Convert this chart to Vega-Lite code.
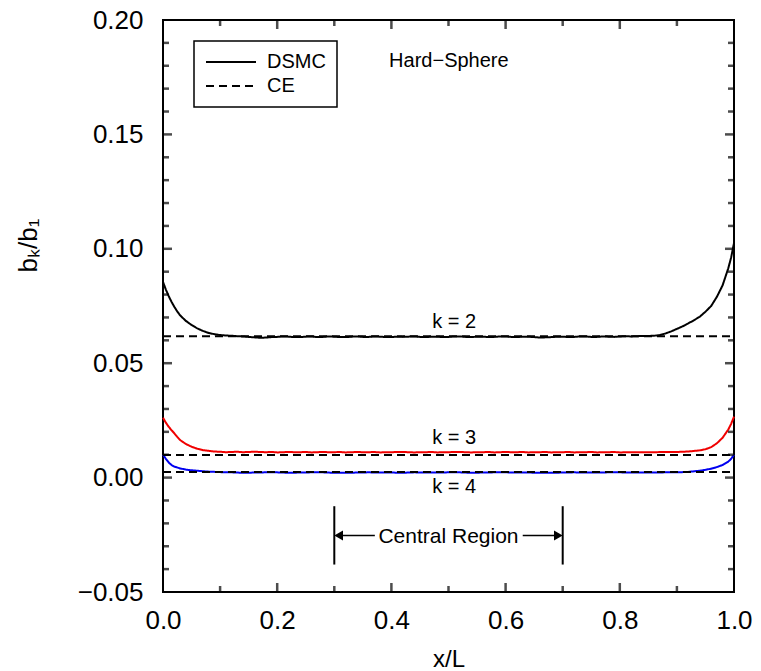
{
  "$schema": "https://vega.github.io/schema/vega-lite/v6.json",
  "width": 571,
  "height": 572,
  "autosize": {"type": "none"},
  "padding": {"left": 163, "top": 20, "right": 27, "bottom": 79},
  "background": "white",
  "config": {
    "view": {"stroke": "black", "strokeWidth": 2},
    "font": "Liberation Sans",
    "axis": {
      "domain": false, "grid": false, "ticks": false, "labelFlush": false, "labelOverlap": false, "labelBound": false,
      "labelFont": "Liberation Sans", "labelFontSize": 26, "labelColor": "black",
      "titleFont": "Liberation Sans", "titleFontSize": 26, "titleColor": "black", "titleFontWeight": "normal"
    }
  },
  "datasets": {
    "dsmc": [
      {"x":0,"y":0.0855,"k":2,"method":"DSMC"},{"x":0.005,"y":0.0822,"k":2,"method":"DSMC"},{"x":0.01,"y":0.0793,"k":2,"method":"DSMC"},{"x":0.015,"y":0.0768,"k":2,"method":"DSMC"},{"x":0.02,"y":0.0746,"k":2,"method":"DSMC"},{"x":0.025,"y":0.0726,"k":2,"method":"DSMC"},{"x":0.03,"y":0.0709,"k":2,"method":"DSMC"},{"x":0.04,"y":0.0685,"k":2,"method":"DSMC"},{"x":0.05,"y":0.0667,"k":2,"method":"DSMC"},{"x":0.06,"y":0.0652,"k":2,"method":"DSMC"},{"x":0.07,"y":0.0641,"k":2,"method":"DSMC"},{"x":0.08,"y":0.0632,"k":2,"method":"DSMC"},{"x":0.09,"y":0.0627,"k":2,"method":"DSMC"},{"x":0.1,"y":0.0623,"k":2,"method":"DSMC"},{"x":0.11,"y":0.0621,"k":2,"method":"DSMC"},{"x":0.12,"y":0.062,"k":2,"method":"DSMC"},{"x":0.13,"y":0.0618,"k":2,"method":"DSMC"},{"x":0.14,"y":0.0617,"k":2,"method":"DSMC"},{"x":0.15,"y":0.0615,"k":2,"method":"DSMC"},{"x":0.16,"y":0.0613,"k":2,"method":"DSMC"},{"x":0.17,"y":0.0611,"k":2,"method":"DSMC"},{"x":0.18,"y":0.0612,"k":2,"method":"DSMC"},{"x":0.19,"y":0.0614,"k":2,"method":"DSMC"},{"x":0.2,"y":0.0615,"k":2,"method":"DSMC"},{"x":0.21,"y":0.0617,"k":2,"method":"DSMC"},{"x":0.22,"y":0.0616,"k":2,"method":"DSMC"},{"x":0.23,"y":0.0614,"k":2,"method":"DSMC"},{"x":0.24,"y":0.0614,"k":2,"method":"DSMC"},{"x":0.25,"y":0.0616,"k":2,"method":"DSMC"},{"x":0.26,"y":0.0617,"k":2,"method":"DSMC"},{"x":0.27,"y":0.0614,"k":2,"method":"DSMC"},{"x":0.28,"y":0.0615,"k":2,"method":"DSMC"},{"x":0.29,"y":0.0617,"k":2,"method":"DSMC"},{"x":0.3,"y":0.0616,"k":2,"method":"DSMC"},{"x":0.31,"y":0.0614,"k":2,"method":"DSMC"},{"x":0.32,"y":0.0614,"k":2,"method":"DSMC"},{"x":0.33,"y":0.0616,"k":2,"method":"DSMC"},{"x":0.34,"y":0.0617,"k":2,"method":"DSMC"},{"x":0.35,"y":0.0615,"k":2,"method":"DSMC"},{"x":0.36,"y":0.0615,"k":2,"method":"DSMC"},{"x":0.37,"y":0.0617,"k":2,"method":"DSMC"},{"x":0.38,"y":0.0616,"k":2,"method":"DSMC"},{"x":0.39,"y":0.0614,"k":2,"method":"DSMC"},{"x":0.4,"y":0.0614,"k":2,"method":"DSMC"},{"x":0.41,"y":0.0616,"k":2,"method":"DSMC"},{"x":0.42,"y":0.0615,"k":2,"method":"DSMC"},{"x":0.43,"y":0.0616,"k":2,"method":"DSMC"},{"x":0.44,"y":0.0617,"k":2,"method":"DSMC"},{"x":0.45,"y":0.0615,"k":2,"method":"DSMC"},{"x":0.46,"y":0.0614,"k":2,"method":"DSMC"},{"x":0.47,"y":0.0616,"k":2,"method":"DSMC"},{"x":0.48,"y":0.0616,"k":2,"method":"DSMC"},{"x":0.49,"y":0.0614,"k":2,"method":"DSMC"},{"x":0.5,"y":0.0615,"k":2,"method":"DSMC"},{"x":0.51,"y":0.0617,"k":2,"method":"DSMC"},{"x":0.52,"y":0.0617,"k":2,"method":"DSMC"},{"x":0.53,"y":0.0615,"k":2,"method":"DSMC"},{"x":0.54,"y":0.0614,"k":2,"method":"DSMC"},{"x":0.55,"y":0.0616,"k":2,"method":"DSMC"},{"x":0.56,"y":0.0616,"k":2,"method":"DSMC"},{"x":0.57,"y":0.0614,"k":2,"method":"DSMC"},{"x":0.58,"y":0.0615,"k":2,"method":"DSMC"},{"x":0.59,"y":0.0617,"k":2,"method":"DSMC"},{"x":0.6,"y":0.0617,"k":2,"method":"DSMC"},{"x":0.61,"y":0.0615,"k":2,"method":"DSMC"},{"x":0.62,"y":0.0614,"k":2,"method":"DSMC"},{"x":0.63,"y":0.0616,"k":2,"method":"DSMC"},{"x":0.64,"y":0.0616,"k":2,"method":"DSMC"},{"x":0.65,"y":0.0614,"k":2,"method":"DSMC"},{"x":0.66,"y":0.0612,"k":2,"method":"DSMC"},{"x":0.67,"y":0.0613,"k":2,"method":"DSMC"},{"x":0.68,"y":0.0614,"k":2,"method":"DSMC"},{"x":0.69,"y":0.0616,"k":2,"method":"DSMC"},{"x":0.7,"y":0.0616,"k":2,"method":"DSMC"},{"x":0.71,"y":0.0614,"k":2,"method":"DSMC"},{"x":0.72,"y":0.0615,"k":2,"method":"DSMC"},{"x":0.73,"y":0.0617,"k":2,"method":"DSMC"},{"x":0.74,"y":0.0617,"k":2,"method":"DSMC"},{"x":0.75,"y":0.0615,"k":2,"method":"DSMC"},{"x":0.76,"y":0.0615,"k":2,"method":"DSMC"},{"x":0.77,"y":0.0617,"k":2,"method":"DSMC"},{"x":0.78,"y":0.0616,"k":2,"method":"DSMC"},{"x":0.79,"y":0.0615,"k":2,"method":"DSMC"},{"x":0.8,"y":0.0617,"k":2,"method":"DSMC"},{"x":0.81,"y":0.0618,"k":2,"method":"DSMC"},{"x":0.82,"y":0.0617,"k":2,"method":"DSMC"},{"x":0.83,"y":0.0618,"k":2,"method":"DSMC"},{"x":0.84,"y":0.0619,"k":2,"method":"DSMC"},{"x":0.85,"y":0.0619,"k":2,"method":"DSMC"},{"x":0.86,"y":0.062,"k":2,"method":"DSMC"},{"x":0.87,"y":0.0623,"k":2,"method":"DSMC"},{"x":0.88,"y":0.063,"k":2,"method":"DSMC"},{"x":0.89,"y":0.0639,"k":2,"method":"DSMC"},{"x":0.9,"y":0.065,"k":2,"method":"DSMC"},{"x":0.91,"y":0.0661,"k":2,"method":"DSMC"},{"x":0.92,"y":0.0674,"k":2,"method":"DSMC"},{"x":0.93,"y":0.0688,"k":2,"method":"DSMC"},{"x":0.94,"y":0.0703,"k":2,"method":"DSMC"},{"x":0.95,"y":0.0725,"k":2,"method":"DSMC"},{"x":0.96,"y":0.075,"k":2,"method":"DSMC"},{"x":0.97,"y":0.079,"k":2,"method":"DSMC"},{"x":0.98,"y":0.084,"k":2,"method":"DSMC"},{"x":0.99,"y":0.0915,"k":2,"method":"DSMC"},{"x":0.995,"y":0.0962,"k":2,"method":"DSMC"},{"x":1,"y":0.1025,"k":2,"method":"DSMC"},
      {"x":0,"y":0.0262,"k":3,"method":"DSMC"},{"x":0.005,"y":0.024,"k":3,"method":"DSMC"},{"x":0.01,"y":0.0222,"k":3,"method":"DSMC"},{"x":0.015,"y":0.0207,"k":3,"method":"DSMC"},{"x":0.02,"y":0.0193,"k":3,"method":"DSMC"},{"x":0.025,"y":0.0178,"k":3,"method":"DSMC"},{"x":0.03,"y":0.0164,"k":3,"method":"DSMC"},{"x":0.04,"y":0.0147,"k":3,"method":"DSMC"},{"x":0.05,"y":0.0135,"k":3,"method":"DSMC"},{"x":0.06,"y":0.0126,"k":3,"method":"DSMC"},{"x":0.07,"y":0.012,"k":3,"method":"DSMC"},{"x":0.08,"y":0.0117,"k":3,"method":"DSMC"},{"x":0.09,"y":0.0114,"k":3,"method":"DSMC"},{"x":0.1,"y":0.0113,"k":3,"method":"DSMC"},{"x":0.11,"y":0.0111,"k":3,"method":"DSMC"},{"x":0.12,"y":0.0112,"k":3,"method":"DSMC"},{"x":0.13,"y":0.0113,"k":3,"method":"DSMC"},{"x":0.14,"y":0.0111,"k":3,"method":"DSMC"},{"x":0.15,"y":0.0112,"k":3,"method":"DSMC"},{"x":0.16,"y":0.0113,"k":3,"method":"DSMC"},{"x":0.17,"y":0.0112,"k":3,"method":"DSMC"},{"x":0.18,"y":0.0111,"k":3,"method":"DSMC"},{"x":0.19,"y":0.0112,"k":3,"method":"DSMC"},{"x":0.2,"y":0.011,"k":3,"method":"DSMC"},{"x":0.21,"y":0.0111,"k":3,"method":"DSMC"},{"x":0.22,"y":0.0112,"k":3,"method":"DSMC"},{"x":0.23,"y":0.0111,"k":3,"method":"DSMC"},{"x":0.24,"y":0.0111,"k":3,"method":"DSMC"},{"x":0.25,"y":0.0112,"k":3,"method":"DSMC"},{"x":0.26,"y":0.011,"k":3,"method":"DSMC"},{"x":0.27,"y":0.0111,"k":3,"method":"DSMC"},{"x":0.28,"y":0.0112,"k":3,"method":"DSMC"},{"x":0.29,"y":0.0111,"k":3,"method":"DSMC"},{"x":0.3,"y":0.0111,"k":3,"method":"DSMC"},{"x":0.31,"y":0.0112,"k":3,"method":"DSMC"},{"x":0.32,"y":0.011,"k":3,"method":"DSMC"},{"x":0.33,"y":0.0111,"k":3,"method":"DSMC"},{"x":0.34,"y":0.0112,"k":3,"method":"DSMC"},{"x":0.35,"y":0.0111,"k":3,"method":"DSMC"},{"x":0.36,"y":0.0111,"k":3,"method":"DSMC"},{"x":0.37,"y":0.0112,"k":3,"method":"DSMC"},{"x":0.38,"y":0.011,"k":3,"method":"DSMC"},{"x":0.39,"y":0.0111,"k":3,"method":"DSMC"},{"x":0.4,"y":0.0111,"k":3,"method":"DSMC"},{"x":0.41,"y":0.0112,"k":3,"method":"DSMC"},{"x":0.42,"y":0.0112,"k":3,"method":"DSMC"},{"x":0.43,"y":0.0111,"k":3,"method":"DSMC"},{"x":0.44,"y":0.011,"k":3,"method":"DSMC"},{"x":0.45,"y":0.0111,"k":3,"method":"DSMC"},{"x":0.46,"y":0.0111,"k":3,"method":"DSMC"},{"x":0.47,"y":0.0112,"k":3,"method":"DSMC"},{"x":0.48,"y":0.011,"k":3,"method":"DSMC"},{"x":0.49,"y":0.0111,"k":3,"method":"DSMC"},{"x":0.5,"y":0.0111,"k":3,"method":"DSMC"},{"x":0.51,"y":0.0112,"k":3,"method":"DSMC"},{"x":0.52,"y":0.0112,"k":3,"method":"DSMC"},{"x":0.53,"y":0.0111,"k":3,"method":"DSMC"},{"x":0.54,"y":0.011,"k":3,"method":"DSMC"},{"x":0.55,"y":0.0111,"k":3,"method":"DSMC"},{"x":0.56,"y":0.0111,"k":3,"method":"DSMC"},{"x":0.57,"y":0.0112,"k":3,"method":"DSMC"},{"x":0.58,"y":0.011,"k":3,"method":"DSMC"},{"x":0.59,"y":0.0111,"k":3,"method":"DSMC"},{"x":0.6,"y":0.0112,"k":3,"method":"DSMC"},{"x":0.61,"y":0.0111,"k":3,"method":"DSMC"},{"x":0.62,"y":0.0111,"k":3,"method":"DSMC"},{"x":0.63,"y":0.0112,"k":3,"method":"DSMC"},{"x":0.64,"y":0.011,"k":3,"method":"DSMC"},{"x":0.65,"y":0.0111,"k":3,"method":"DSMC"},{"x":0.66,"y":0.0111,"k":3,"method":"DSMC"},{"x":0.67,"y":0.0112,"k":3,"method":"DSMC"},{"x":0.68,"y":0.011,"k":3,"method":"DSMC"},{"x":0.69,"y":0.0111,"k":3,"method":"DSMC"},{"x":0.7,"y":0.0111,"k":3,"method":"DSMC"},{"x":0.71,"y":0.0112,"k":3,"method":"DSMC"},{"x":0.72,"y":0.011,"k":3,"method":"DSMC"},{"x":0.73,"y":0.0111,"k":3,"method":"DSMC"},{"x":0.74,"y":0.0111,"k":3,"method":"DSMC"},{"x":0.75,"y":0.0112,"k":3,"method":"DSMC"},{"x":0.76,"y":0.011,"k":3,"method":"DSMC"},{"x":0.77,"y":0.0111,"k":3,"method":"DSMC"},{"x":0.78,"y":0.0111,"k":3,"method":"DSMC"},{"x":0.79,"y":0.0112,"k":3,"method":"DSMC"},{"x":0.8,"y":0.011,"k":3,"method":"DSMC"},{"x":0.82,"y":0.0111,"k":3,"method":"DSMC"},{"x":0.84,"y":0.0111,"k":3,"method":"DSMC"},{"x":0.86,"y":0.0111,"k":3,"method":"DSMC"},{"x":0.88,"y":0.0112,"k":3,"method":"DSMC"},{"x":0.9,"y":0.0112,"k":3,"method":"DSMC"},{"x":0.92,"y":0.0114,"k":3,"method":"DSMC"},{"x":0.94,"y":0.0119,"k":3,"method":"DSMC"},{"x":0.95,"y":0.0124,"k":3,"method":"DSMC"},{"x":0.96,"y":0.0133,"k":3,"method":"DSMC"},{"x":0.97,"y":0.015,"k":3,"method":"DSMC"},{"x":0.98,"y":0.0174,"k":3,"method":"DSMC"},{"x":0.99,"y":0.021,"k":3,"method":"DSMC"},{"x":0.995,"y":0.0235,"k":3,"method":"DSMC"},{"x":1,"y":0.0266,"k":3,"method":"DSMC"},
      {"x":0,"y":0.01,"k":4,"method":"DSMC"},{"x":0.005,"y":0.0082,"k":4,"method":"DSMC"},{"x":0.01,"y":0.0066,"k":4,"method":"DSMC"},{"x":0.015,"y":0.0055,"k":4,"method":"DSMC"},{"x":0.02,"y":0.0048,"k":4,"method":"DSMC"},{"x":0.03,"y":0.004,"k":4,"method":"DSMC"},{"x":0.04,"y":0.0035,"k":4,"method":"DSMC"},{"x":0.05,"y":0.0032,"k":4,"method":"DSMC"},{"x":0.06,"y":0.003,"k":4,"method":"DSMC"},{"x":0.07,"y":0.0028,"k":4,"method":"DSMC"},{"x":0.08,"y":0.0026,"k":4,"method":"DSMC"},{"x":0.1,"y":0.0024,"k":4,"method":"DSMC"},{"x":0.12,"y":0.0023,"k":4,"method":"DSMC"},{"x":0.14,"y":0.0021,"k":4,"method":"DSMC"},{"x":0.16,"y":0.0022,"k":4,"method":"DSMC"},{"x":0.18,"y":0.0023,"k":4,"method":"DSMC"},{"x":0.2,"y":0.0023,"k":4,"method":"DSMC"},{"x":0.22,"y":0.0021,"k":4,"method":"DSMC"},{"x":0.24,"y":0.0022,"k":4,"method":"DSMC"},{"x":0.26,"y":0.0023,"k":4,"method":"DSMC"},{"x":0.28,"y":0.0023,"k":4,"method":"DSMC"},{"x":0.3,"y":0.0021,"k":4,"method":"DSMC"},{"x":0.32,"y":0.0021,"k":4,"method":"DSMC"},{"x":0.34,"y":0.0022,"k":4,"method":"DSMC"},{"x":0.36,"y":0.0023,"k":4,"method":"DSMC"},{"x":0.38,"y":0.0022,"k":4,"method":"DSMC"},{"x":0.4,"y":0.0022,"k":4,"method":"DSMC"},{"x":0.42,"y":0.0021,"k":4,"method":"DSMC"},{"x":0.44,"y":0.0023,"k":4,"method":"DSMC"},{"x":0.46,"y":0.0022,"k":4,"method":"DSMC"},{"x":0.48,"y":0.0022,"k":4,"method":"DSMC"},{"x":0.5,"y":0.0023,"k":4,"method":"DSMC"},{"x":0.52,"y":0.0023,"k":4,"method":"DSMC"},{"x":0.54,"y":0.0021,"k":4,"method":"DSMC"},{"x":0.56,"y":0.0022,"k":4,"method":"DSMC"},{"x":0.58,"y":0.0023,"k":4,"method":"DSMC"},{"x":0.6,"y":0.0023,"k":4,"method":"DSMC"},{"x":0.62,"y":0.0022,"k":4,"method":"DSMC"},{"x":0.64,"y":0.0022,"k":4,"method":"DSMC"},{"x":0.66,"y":0.0021,"k":4,"method":"DSMC"},{"x":0.68,"y":0.0021,"k":4,"method":"DSMC"},{"x":0.7,"y":0.0022,"k":4,"method":"DSMC"},{"x":0.72,"y":0.0023,"k":4,"method":"DSMC"},{"x":0.74,"y":0.0022,"k":4,"method":"DSMC"},{"x":0.76,"y":0.0022,"k":4,"method":"DSMC"},{"x":0.78,"y":0.0023,"k":4,"method":"DSMC"},{"x":0.8,"y":0.0023,"k":4,"method":"DSMC"},{"x":0.82,"y":0.0022,"k":4,"method":"DSMC"},{"x":0.84,"y":0.0022,"k":4,"method":"DSMC"},{"x":0.86,"y":0.0022,"k":4,"method":"DSMC"},{"x":0.88,"y":0.0023,"k":4,"method":"DSMC"},{"x":0.9,"y":0.0023,"k":4,"method":"DSMC"},{"x":0.92,"y":0.0025,"k":4,"method":"DSMC"},{"x":0.94,"y":0.003,"k":4,"method":"DSMC"},{"x":0.95,"y":0.0034,"k":4,"method":"DSMC"},{"x":0.96,"y":0.0039,"k":4,"method":"DSMC"},{"x":0.97,"y":0.0046,"k":4,"method":"DSMC"},{"x":0.98,"y":0.0055,"k":4,"method":"DSMC"},{"x":0.99,"y":0.007,"k":4,"method":"DSMC"},{"x":0.995,"y":0.0082,"k":4,"method":"DSMC"},{"x":1,"y":0.01,"k":4,"method":"DSMC"}
    ],
    "ce": [
      {"x":0,"y":0.0618,"k":2,"method":"CE"},{"x":1,"y":0.0618,"k":2,"method":"CE"},
      {"x":0,"y":0.0099,"k":3,"method":"CE"},{"x":1,"y":0.0099,"k":3,"method":"CE"},
      {"x":0,"y":0.0024,"k":4,"method":"CE"},{"x":1,"y":0.0024,"k":4,"method":"CE"}
    ],
    "xmajor": [{"v":0.2},{"v":0.4},{"v":0.6},{"v":0.8}],
    "xminor": [{"v":0.1},{"v":0.3},{"v":0.5},{"v":0.7},{"v":0.9}],
    "ymajor": [{"v":0},{"v":0.05},{"v":0.1},{"v":0.15}],
    "yminor": [{"v":-0.04},{"v":-0.03},{"v":-0.02},{"v":-0.01},{"v":0.01},{"v":0.02},{"v":0.03},{"v":0.04},{"v":0.06},{"v":0.07},{"v":0.08},{"v":0.09},{"v":0.11},{"v":0.12},{"v":0.13},{"v":0.14},{"v":0.16},{"v":0.17},{"v":0.18},{"v":0.19}],
    "klabels": [
      {"x":0.51,"y":0.0654,"label":"k = 2"},
      {"x":0.51,"y":0.0148,"label":"k = 3"},
      {"x":0.51,"y":-0.0067,"label":"k = 4"}
    ],
    "bars": [
      {"x":0.3,"y":-0.0125,"y2":-0.038},
      {"x":0.7,"y":-0.0125,"y2":-0.038}
    ],
    "arrows": [
      {"x":0.305,"x2":0.371,"y":-0.0253},
      {"x":0.63,"x2":0.695,"y":-0.0253}
    ],
    "heads": [
      {"x":0.3076,"y":-0.0253,"dir":"left"},
      {"x":0.6924,"y":-0.0253,"dir":"right"}
    ],
    "central": [{"x":0.5,"y":-0.0288,"label":"Central Region"}],
    "hs": [{"x":0.396,"y":0.1796,"label":"Hard−Sphere"}]
  },
  "layer": [
    {
      "data": {"name": "dsmc"},
      "mark": {"type": "line", "strokeWidth": 2},
      "encoding": {
        "x": {"field": "x", "type": "quantitative", "scale": {"domain": [0, 1], "nice": false, "zero": false},
          "axis": {"orient": "bottom", "values": [0, 0.2, 0.4, 0.6, 0.8, 1], "format": ".1f", "labelPadding": 15,
            "title": "x/L", "titleFontSize": 24, "titleY": 74, "titleBaseline": "alphabetic"}},
        "y": {"field": "y", "type": "quantitative", "scale": {"domain": [-0.05, 0.2], "nice": false, "zero": false},
          "axis": {"orient": "left", "values": [-0.05, 0, 0.05, 0.1, 0.15, 0.2], "format": ".2f", "labelPadding": 20,
            "title": "bₖ/b₁", "titleX": -135, "titleY": 225, "titleAngle": -90, "titleAlign": "center", "titleBaseline": "middle"}},
        "color": {"field": "k", "type": "nominal", "scale": {"domain": [2, 3, 4], "range": ["black", "#f00000", "#0000f0"]}, "legend": null},
        "strokeDash": {"field": "method", "type": "nominal", "scale": {"domain": ["DSMC", "CE"], "range": [[1, 0], [8, 5]]},
          "legend": {"orient": "none", "legendX": 31, "legendY": 21, "title": null, "symbolType": "stroke", "symbolSize": 2500,
            "symbolStrokeWidth": 2, "symbolStrokeColor": "black", "labelFontSize": 20, "labelFont": "Liberation Sans", "labelColor": "black",
            "clipHeight": 20, "rowPadding": 4, "labelOffset": 10, "padding": 11, "strokeColor": "black",
            "encode": {"legend": {"update": {"strokeWidth": {"value": 1.5}}}}}}
      }
    },
    {
      "data": {"name": "ce"},
      "mark": {"type": "line", "strokeWidth": 2, "color": "black"},
      "encoding": {
        "x": {"field": "x", "type": "quantitative"},
        "y": {"field": "y", "type": "quantitative"},
        "strokeDash": {"field": "method", "type": "nominal"},
        "detail": {"field": "k", "type": "nominal"}
      }
    },
    {
      "data": {"name": "xmajor"},
      "mark": {"type": "tick", "orient": "vertical", "size": 18, "thickness": 2.5, "color": "black", "clip": true},
      "encoding": {"x": {"field": "v", "type": "quantitative"}, "y": {"datum": -0.05, "type": "quantitative"}}
    },
    {
      "data": {"name": "xmajor"},
      "mark": {"type": "tick", "orient": "vertical", "size": 18, "thickness": 2.5, "color": "black", "clip": true},
      "encoding": {"x": {"field": "v", "type": "quantitative"}, "y": {"datum": 0.2, "type": "quantitative"}}
    },
    {
      "data": {"name": "xminor"},
      "mark": {"type": "tick", "orient": "vertical", "size": 12, "thickness": 2.5, "color": "black", "clip": true},
      "encoding": {"x": {"field": "v", "type": "quantitative"}, "y": {"datum": -0.05, "type": "quantitative"}}
    },
    {
      "data": {"name": "xminor"},
      "mark": {"type": "tick", "orient": "vertical", "size": 12, "thickness": 2.5, "color": "black", "clip": true},
      "encoding": {"x": {"field": "v", "type": "quantitative"}, "y": {"datum": 0.2, "type": "quantitative"}}
    },
    {
      "data": {"name": "ymajor"},
      "mark": {"type": "tick", "orient": "horizontal", "size": 18, "thickness": 2.5, "color": "black", "clip": true},
      "encoding": {"y": {"field": "v", "type": "quantitative"}, "x": {"datum": 0, "type": "quantitative"}}
    },
    {
      "data": {"name": "ymajor"},
      "mark": {"type": "tick", "orient": "horizontal", "size": 18, "thickness": 2.5, "color": "black", "clip": true},
      "encoding": {"y": {"field": "v", "type": "quantitative"}, "x": {"datum": 1, "type": "quantitative"}}
    },
    {
      "data": {"name": "yminor"},
      "mark": {"type": "tick", "orient": "horizontal", "size": 12, "thickness": 2.5, "color": "black", "clip": true},
      "encoding": {"y": {"field": "v", "type": "quantitative"}, "x": {"datum": 0, "type": "quantitative"}}
    },
    {
      "data": {"name": "yminor"},
      "mark": {"type": "tick", "orient": "horizontal", "size": 12, "thickness": 2.5, "color": "black", "clip": true},
      "encoding": {"y": {"field": "v", "type": "quantitative"}, "x": {"datum": 1, "type": "quantitative"}}
    },
    {
      "data": {"name": "klabels"},
      "mark": {"type": "text", "fontSize": 20, "font": "Liberation Sans", "align": "center", "baseline": "alphabetic", "color": "black"},
      "encoding": {
        "x": {"field": "x", "type": "quantitative"},
        "y": {"field": "y", "type": "quantitative"},
        "text": {"field": "label"}
      }
    },
    {
      "data": {"name": "bars"},
      "mark": {"type": "rule", "strokeWidth": 2, "color": "black"},
      "encoding": {
        "x": {"field": "x", "type": "quantitative"},
        "y": {"field": "y", "type": "quantitative"},
        "y2": {"field": "y2"}
      }
    },
    {
      "data": {"name": "arrows"},
      "mark": {"type": "rule", "strokeWidth": 1.5, "color": "black"},
      "encoding": {
        "x": {"field": "x", "type": "quantitative"},
        "x2": {"field": "x2"},
        "y": {"field": "y", "type": "quantitative"}
      }
    },
    {
      "data": {"name": "heads"},
      "mark": {"type": "point", "filled": true, "size": 100, "color": "black", "opacity": 1},
      "encoding": {
        "x": {"field": "x", "type": "quantitative"},
        "y": {"field": "y", "type": "quantitative"},
        "shape": {"field": "dir", "type": "nominal", "scale": {"domain": ["left", "right"], "range": ["triangle-left", "triangle-right"]}, "legend": null}
      }
    },
    {
      "data": {"name": "central"},
      "mark": {"type": "text", "fontSize": 21, "font": "Liberation Sans", "align": "center", "baseline": "alphabetic", "color": "black"},
      "encoding": {
        "x": {"field": "x", "type": "quantitative"},
        "y": {"field": "y", "type": "quantitative"},
        "text": {"field": "label"}
      }
    },
    {
      "data": {"name": "hs"},
      "mark": {"type": "text", "fontSize": 20, "font": "Liberation Sans", "align": "left", "baseline": "alphabetic", "color": "black"},
      "encoding": {
        "x": {"field": "x", "type": "quantitative"},
        "y": {"field": "y", "type": "quantitative"},
        "text": {"field": "label"}
      }
    }
  ]
}
